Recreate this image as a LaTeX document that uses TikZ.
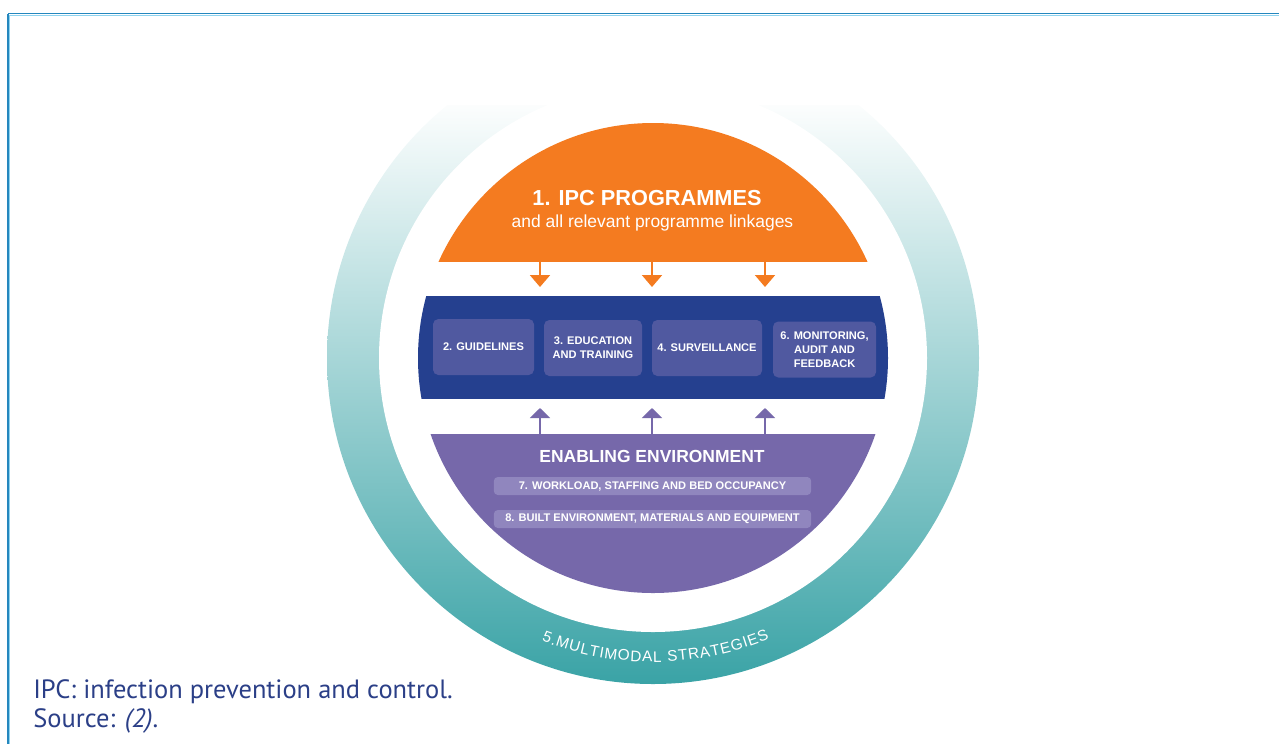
\documentclass[tikz,border=0pt]{standalone}
\usepackage{fontspec}
\usepackage{tikz}
\usetikzlibrary{arrows.meta,backgrounds,calc,decorations.text,positioning}
\newfontfamily\diagfont{Liberation Sans}
\newfontfamily\capfont{PT Sans}
\newcommand{\ringfont}{\diagfont\fontsize{11.5}{12}\selectfont}
\newcommand{\boxfont}{\diagfont\bfseries\fontsize{8.3}{10.5}\selectfont}
\definecolor{ipcorange}{HTML}{F47B20}
\definecolor{bandblue}{HTML}{25408F}
\definecolor{boxblue}{HTML}{5059A0}
\definecolor{envpurple}{HTML}{7668AA}
\definecolor{subpurple}{HTML}{9086BE}
\definecolor{ringteal}{HTML}{3AA3A6}
\definecolor{capnavy}{HTML}{2B3F87}
\definecolor{framedark}{HTML}{2587BE}
\definecolor{framelight}{HTML}{8ED3EF}
\tikzset{
  stagebox/.style={rounded corners=4pt, fill=boxblue, text=white, inner sep=0pt,
    minimum height=42pt, align=center, font=\boxfont},
  envbox/.style={rounded corners=3pt, fill=subpurple, text=white, inner sep=0pt,
    minimum width=238pt, minimum height=13.5pt, font=\boxfont},
  downarrow/.style={draw=ipcorange, line width=1.5pt, -{Triangle[width=15pt,length=9pt]}},
  uparrow/.style={draw=envpurple, line width=1.5pt, -{Triangle[width=15pt,length=7.5pt]}},
  caption/.style={anchor=base west, text=capnavy, inner sep=0pt, font=\capfont\fontsize{19.85}{24}\selectfont}
}
\begin{document}
\begin{tikzpicture}[x=0.75pt,y=-0.75pt]
\useasboundingbox (0,0) rectangle (1279,744);
\pgfmathsetmacro{\radius}{235}
\coordinate (centre) at (653,358);
% frame
\draw[framedark, line width=1.1pt] (8,13.5) -- (1279,13.5);
\draw[framelight, line width=0.8pt] (9,15.2) -- (1279,15.2);
\draw[framedark, line width=1.1pt] (8,13.5) -- (8,744);
\draw[framelight, line width=0.8pt] (9.6,15.2) -- (9.6,744);
% ring
\begin{scope}
  \clip (300,105) rectangle (1000,700);
  \clip (centre) circle (326);
  \shade[top color=white, bottom color=ringteal] (320,95) rectangle (990,684);
  \fill[white] (centre) circle (274);
\end{scope}
\path[decorate, decoration={text along path,
    text={|\ringfont|5.MULTIMODAL STRATEGIES}, text color=white,
    text align={fit to path}}]
  ($(centre)+(111.5:304)$) arc[start angle=111.5, end angle=67.5, radius=304];
% three parts of the disc
\begin{scope}
  \clip (400,100) rectangle (900,261);
  \fill[ipcorange] (centre) circle (\radius);
\end{scope}
\begin{scope}
  \clip (400,296) rectangle (900,398);
  \fill[bandblue] (centre) circle (\radius);
\end{scope}
\begin{scope}
  \clip (400,434) rectangle (900,600);
  \fill[envpurple] (centre) circle (\radius);
\end{scope}
% programmes
\node[text=white, font=\diagfont\bfseries\fontsize{16.3}{18}\selectfont] (programmes) at (647,198) {1. IPC PROGRAMMES};
\node[anchor=base, text=white, font=\diagfont\fontsize{13.1}{15}\selectfont] (linkages) at (652.5,227) {and all relevant programme linkages};
% core components
\node[stagebox, minimum width=75.75pt] (guidelines) at (483.5,347) {2. GUIDELINES};
\node[stagebox, minimum width=73.5pt] (education) at (593,348) {3. EDUCATION\\AND TRAINING};
\node[stagebox, minimum width=82.5pt] (surveillance) at (707,348) {4. SURVEILLANCE};
\node[stagebox, minimum width=77.25pt] (monitoring) at (824.5,349.5) {6. MONITORING,\\AUDIT AND\\FEEDBACK};
% enabling environment
\node[text=white, font=\diagfont\bfseries\fontsize{13.1}{15}\selectfont] (enabling) at (652,456.5) {ENABLING ENVIRONMENT};
\node[envbox] (workload) at (652.5,486) {7. WORKLOAD, STAFFING AND BED OCCUPANCY};
\node[envbox] (built) at (652.5,519) {8. BUILT ENVIRONMENT, MATERIALS AND EQUIPMENT};
% arrows
\foreach \ax [count=\i] in {540,652,765}{
  \coordinate (prog\i) at (\ax,261);
  \coordinate (bandtop\i) at (\ax,287);
  \draw[downarrow] (prog\i) -- (bandtop\i);
  \coordinate (env\i) at (\ax,434);
  \coordinate (bandlow\i) at (\ax,408);
  \draw[uparrow] (env\i) -- (bandlow\i);
}
% caption
\node[caption] (note) at (33,698) {IPC: infection prevention and control.};
\node[caption] (source) at (33,727) {Source: \textit{(2)}.};
\end{tikzpicture}
\end{document}
